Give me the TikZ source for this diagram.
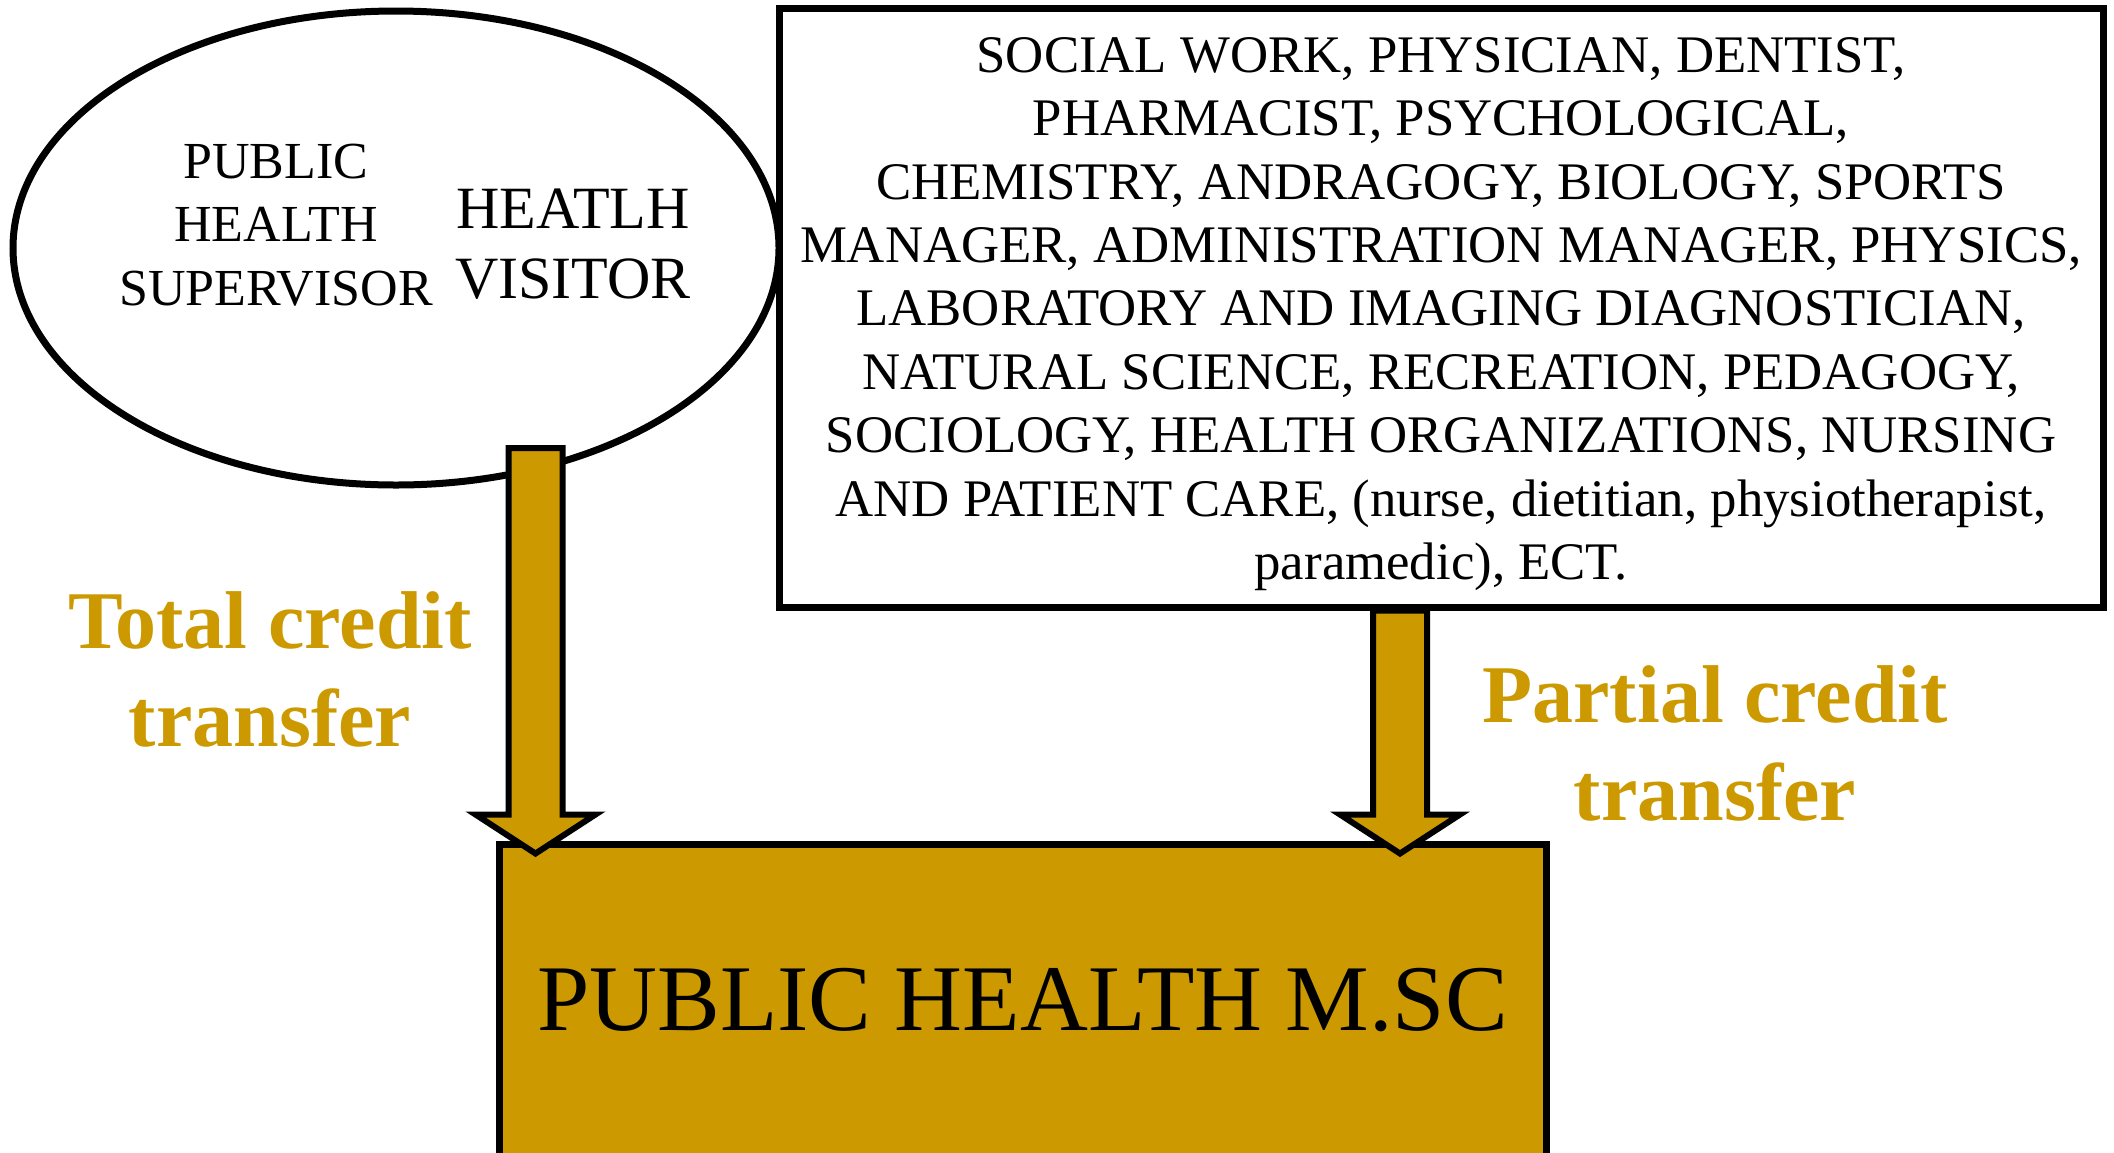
\documentclass[tikz,border=0pt]{standalone}
\usepackage{xcolor}
\usepackage{fontspec}
\setmainfont{Liberation Serif}
\usepackage{tikz}
\usetikzlibrary{positioning, calc, shapes.geometric}
\definecolor{gold}{RGB}{204,153,0}

\begin{document}
\begin{tikzpicture}[
  x=0.5pt, y=-0.5pt,
  origin/.style={ellipse, draw, line width=3.5pt, minimum width=383pt, minimum height=237pt, fill=white},
  fields/.style={rectangle, draw, line width=3.5pt, minimum width=662pt, minimum height=299.5pt, fill=white, align=center, font=\fontsize{26.4}{31.7}\selectfont},
  target/.style={rectangle, draw, line width=3.5pt, minimum width=523.5pt, minimum height=156pt, fill=gold, font=\fontsize{47}{56}\selectfont},
  intext/.style={align=center, inner sep=0pt},
  transfer/.style={draw, line width=3pt, fill=gold, line join=miter},
  gain/.style={align=center, text=gold, font=\bfseries\fontsize{41}{49}\selectfont}
]
\clip (0,0) rectangle (2114,1152);

% Nodes
\node[origin] (origin) at (396,248) {};
\node[intext, font=\fontsize{26}{31.7}\selectfont] (supervisor) at (276,225) {PUBLIC\\HEALTH\\SUPERVISOR};
\node[intext, font=\fontsize{30}{35}\selectfont] (visitor) at (573,244) {HEATLH\\VISITOR};
\node[fields] (fields) at (1441,307.5) {\rule{0pt}{24pt}SOCIAL WORK, PHYSICIAN, DENTIST,\\
  PHARMACIST, PSYCHOLOGICAL,\\
  CHEMISTRY, ANDRAGOGY, BIOLOGY, SPORTS\\
  MANAGER, ADMINISTRATION MANAGER, PHYSICS,\\
  LABORATORY AND IMAGING DIAGNOSTICIAN,\\
  NATURAL SCIENCE, RECREATION, PEDAGOGY,\\
  SOCIOLOGY, HEALTH ORGANIZATIONS, NURSING\\
  AND PATIENT CARE, (nurse, dietitian, physiotherapist,\\
  paramedic), ECT.};
\node[target] (msc) at (1022.5,1000) {PUBLIC HEALTH M.SC};

% Arrow ends
\coordinate (ltop) at (535.5,448);
\coordinate (ltip) at ($(ltop |- msc.north)+(0,13)$);
\coordinate (rtop) at ($(fields.south)+(-41,0)$);
\coordinate (rtip) at ($(rtop |- msc.north)+(0,13)$);

% Connections
\draw[transfer] ($(ltop)+(-27,0)$) -- ($(ltip)+(-27,-39)$) -- ($(ltip)+(-60,-39)$) -- (ltip)
  -- ($(ltip)+(60,-39)$) -- ($(ltip)+(27,-39)$) -- ($(ltop)+(27,0)$) -- cycle;
\draw[transfer] ($(rtop)+(-27,0)$) -- ($(rtip)+(-27,-39)$) -- ($(rtip)+(-60,-39)$) -- (rtip)
  -- ($(rtip)+(60,-39)$) -- ($(rtip)+(27,-39)$) -- ($(rtop)+(27,0)$) -- cycle;

% Labels
\node[gain] (total) at (270,669) {Total credit\\transfer};
\node[gain] (partial) at (1715,743.5) {Partial credit\\transfer};

\end{tikzpicture}
\end{document}
